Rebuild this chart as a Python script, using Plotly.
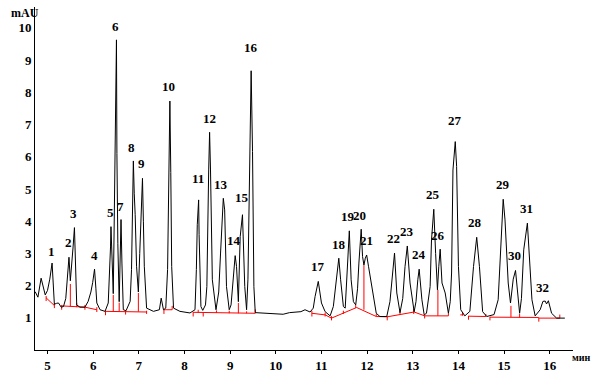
import plotly.graph_objects as go

# Chromatogram signal (time in min, signal in mAU)
signal_t = [4.73, 4.79, 4.86, 4.90, 4.95, 5.00, 5.05, 5.10, 5.13, 5.15, 5.20, 5.24, 5.30, 5.35, 5.40, 5.44,
            5.47, 5.50, 5.53, 5.56, 5.59, 5.62, 5.64, 5.71, 5.82, 5.89, 5.95, 5.99, 6.03, 6.06, 6.08, 6.15,
            6.26, 6.33, 6.36, 6.38, 6.39, 6.41, 6.44, 6.46, 6.48, 6.51, 6.52, 6.54, 6.57, 6.59, 6.61, 6.63,
            6.66, 6.72, 6.81, 6.84, 6.86, 6.88, 6.90, 6.92, 6.95, 6.99, 7.02, 7.05, 7.08, 7.10, 7.12, 7.17,
            7.32, 7.45, 7.49, 7.54, 7.59, 7.63, 7.65, 7.68, 7.70, 7.72, 7.76, 7.90, 8.12, 8.23, 8.26, 8.28,
            8.31, 8.32, 8.36, 8.40, 8.46, 8.49, 8.53, 8.55, 8.57, 8.61, 8.69, 8.75, 8.79, 8.85, 8.88, 8.92,
            8.98, 9.02, 9.06, 9.11, 9.14, 9.18, 9.22, 9.27, 9.32, 9.36, 9.39, 9.41, 9.43, 9.46, 9.49, 9.52,
            9.55, 9.80, 10.05, 10.16, 10.30, 10.45, 10.55, 10.64, 10.75, 10.82, 10.86, 10.93, 11.00, 11.08,
            11.19, 11.26, 11.31, 11.35, 11.38, 11.42, 11.48, 11.52, 11.57, 11.61, 11.65, 11.70, 11.75, 11.79,
            11.82, 11.87, 11.90, 11.93, 11.96, 11.99, 12.03, 12.07, 12.15, 12.20, 12.28, 12.43, 12.50, 12.54,
            12.60, 12.65, 12.72, 12.78, 12.83, 12.88, 12.94, 13.03, 13.07, 13.11, 13.14, 13.20, 13.25, 13.30,
            13.38, 13.41, 13.46, 13.50, 13.54, 13.57, 13.60, 13.64, 13.71, 13.78, 13.82, 13.85, 13.88, 13.93,
            13.96, 14.00, 14.05, 14.14, 14.25, 14.33, 14.40, 14.46, 14.53, 14.62, 14.78, 14.87, 14.93, 14.98,
            15.02, 15.09, 15.14, 15.20, 15.25, 15.28, 15.34, 15.38, 15.43, 15.51, 15.55, 15.61, 15.68, 15.79,
            15.85, 15.90, 15.93, 15.97, 16.04, 16.15, 16.33]
signal_mau = [1.81, 1.64, 2.23, 2.00, 1.71, 1.85, 2.20, 2.70, 1.90, 1.42, 1.45, 1.46, 1.33, 1.35, 1.60, 2.20,
              2.88, 2.15, 2.60, 3.20, 3.80, 2.30, 1.40, 1.33, 1.33, 1.51, 1.80, 2.10, 2.51, 1.90, 1.46, 1.25,
              1.20, 1.46, 2.30, 3.20, 3.83, 3.10, 1.75, 3.85, 7.00, 9.63, 6.10, 3.30, 1.50, 3.00, 4.05, 2.70,
              1.25, 1.22, 1.51, 2.50, 4.25, 5.87, 4.85, 4.20, 2.60, 1.80, 3.00, 4.56, 5.33, 4.00, 2.60, 1.30,
              1.20, 1.25, 1.61, 1.25, 1.30, 2.50, 5.51, 7.73, 5.51, 2.59, 1.30, 1.20, 1.15, 1.25, 2.50, 3.89,
              4.66, 3.58, 1.35, 1.23, 1.40, 1.97, 5.59, 6.76, 5.59, 2.18, 1.25, 1.80, 3.01, 4.71, 4.35, 1.97,
              1.25, 1.40, 2.08, 2.93, 2.59, 1.50, 3.52, 4.20, 1.97, 1.25, 2.20, 4.04, 6.16, 8.67, 6.16, 1.97,
              1.16, 1.14, 1.14, 1.11, 1.16, 1.18, 1.19, 1.25, 1.18, 1.30, 1.66, 2.13, 1.46, 1.19,
              1.06, 1.35, 2.00, 2.39, 2.85, 2.18, 1.35, 1.30, 2.70, 3.70, 2.18, 1.50, 1.40, 1.90,
              2.70, 3.75, 2.90, 2.64, 2.85, 2.95, 2.60, 2.28, 1.56, 1.14, 1.04, 1.04, 1.50, 2.18,
              3.01, 1.77, 1.16, 1.60, 2.59, 3.23, 2.08, 1.19, 1.50, 2.18, 2.51, 1.56, 1.09, 1.14,
              1.97, 3.42, 4.37, 3.00, 1.87, 2.60, 3.13, 2.08, 1.77, 1.14, 1.50, 2.39, 5.59, 6.47,
              5.70, 2.59, 1.25, 1.06, 1.20, 2.59, 3.50, 2.59, 1.19, 1.04, 1.10, 1.56, 3.42, 4.68,
              4.04, 2.08, 1.46, 2.20, 2.47, 1.97, 1.14, 1.60, 3.11, 3.94, 3.11, 1.56, 1.06, 1.25,
              1.51, 1.52, 1.43, 1.53, 1.14, 0.99, 0.99]

# Integration baseline segments (red): each is a list of (time, mAU) points
baseline_segments = [
    [(4.97, 1.62), (5.15, 1.38)],
    [(5.31, 1.37), (5.82, 1.33)],
    [(5.82, 1.33), (6.08, 1.25)],
    [(6.27, 1.20), (7.18, 1.18)],
    [(7.55, 1.25), (7.73, 1.25)],
    [(8.19, 1.17), (9.55, 1.14)],
    [(10.79, 1.14), (11.08, 1.09), (11.22, 0.99), (11.77, 1.32), (12.20, 1.04),
     (12.44, 1.03), (13.03, 1.18), (13.26, 1.06), (13.78, 1.06)],
    [(14.04, 1.09), (14.11, 1.09)],
    [(14.22, 1.05), (14.60, 1.04)],
    [(14.69, 1.02), (15.76, 1.01)],
    [(15.76, 0.99), (16.22, 0.99)],
]

# Peak boundary marks and drop lines (red): time, low mAU, high mAU
mark_t = [4.97, 5.15, 5.31, 5.50, 5.64, 5.82, 6.08, 6.27, 6.44, 6.57, 6.71, 6.99, 7.17, 7.55, 7.73,
          8.19, 8.30, 8.41, 8.70, 8.98, 9.18, 9.36, 9.55, 10.79, 11.08, 11.22, 11.48, 11.75, 11.93,
          12.20, 12.44, 12.72, 13.02, 13.26, 13.55, 13.78, 14.09, 14.22, 14.60, 14.69, 15.15, 15.34,
          15.76, 16.22]
mark_lo = [1.52, 1.30, 1.25, 1.35, 1.33, 1.25, 1.18, 1.08, 1.20, 1.20, 1.10, 1.19, 1.12, 1.12, 1.25,
           1.04, 1.16, 1.04, 1.15, 1.14, 1.14, 1.14, 1.14, 1.04, 1.04, 0.92, 1.12, 1.30, 1.25,
           1.04, 0.92, 1.10, 1.12, 0.98, 1.06, 1.06, 1.07, 0.94, 1.03, 0.92, 1.02, 1.01,
           0.88, 0.99]
mark_hi = [1.68, 1.45, 1.40, 2.05, 1.45, 1.40, 1.33, 1.22, 1.71, 1.47, 1.22, 1.77, 1.22, 1.27, 1.37,
           1.18, 1.25, 1.16, 1.23, 1.22, 1.46, 1.20, 1.26, 1.22, 1.16, 1.05, 1.22, 1.40, 2.64,
           1.12, 1.05, 1.20, 1.28, 1.08, 1.87, 1.14, 1.18, 1.06, 1.12, 1.03, 1.37, 1.12,
           1.00, 1.10]

# Peak number labels: text, time, mAU position
peak_labels = ["1", "2", "3", "4", "5", "6", "7", "8", "9", "10", "11", "12", "13", "14", "15", "16",
               "17", "18", "19", "20", "21", "22", "23", "24", "25", "26", "27", "28", "29", "30", "31", "32"]
label_t = [5.08, 5.45, 5.57, 6.02, 6.37, 6.48, 6.60, 6.85, 7.05, 7.66, 8.30, 8.54, 8.80, 9.08, 9.26, 9.46,
           10.92, 11.38, 11.59, 11.84, 11.98, 12.58, 12.87, 13.13, 13.44, 13.56, 13.92, 14.37, 14.97,
           15.23, 15.49, 15.84]
label_y = [3.05, 3.33, 4.23, 2.92, 4.26, 10.06, 4.47, 6.30, 5.78, 8.17, 5.31, 7.20, 5.15, 3.39, 4.73, 9.38,
           2.58, 3.29, 4.16, 4.19, 3.39, 3.45, 3.67, 2.95, 4.82, 3.57, 7.14, 3.95, 5.15,
           2.92, 4.38, 1.93]

x_ticks = list(range(5, 17))
y_ticks = list(range(1, 11))

FONT = "Liberation Serif"

fig = go.Figure()

# red baseline
bx, by = [], []
for seg in baseline_segments:
    for t, v in seg:
        bx.append(t)
        by.append(v)
    bx.append(None)
    by.append(None)
fig.add_trace(go.Scatter(x=bx, y=by, mode="lines", line=dict(color="#ff0000", width=1),
                         hoverinfo="skip", showlegend=False))

# red vertical marks
mx, my = [], []
for t, lo, hi in zip(mark_t, mark_lo, mark_hi):
    mx += [t, t, None]
    my += [lo, hi, None]
fig.add_trace(go.Scatter(x=mx, y=my, mode="lines", line=dict(color="#ff0000", width=1),
                         hoverinfo="skip", showlegend=False))

# signal
fig.add_trace(go.Scatter(x=signal_t, y=signal_mau, mode="lines",
                         line=dict(color="black", width=1), showlegend=False))

for txt, t, v in zip(peak_labels, label_t, label_y):
    fig.add_annotation(x=t, y=v, text=txt, showarrow=False, xanchor="center", yanchor="middle",
                       font=dict(family=FONT, size=13, color="black", weight="bold"))

# plot area in pixels: x 35..573, y 7..350
L, R, T, B = 35, 25, 7, 24
W, H = 598, 374
pw, ph = W - L - R, H - T - B

fig.add_annotation(xref="paper", yref="paper", x=(25 - L) / pw, y=(H - B - 13) / ph,
                   text="mAU", showarrow=False, xanchor="center", yanchor="middle",
                   font=dict(family=FONT, size=12, color="black", weight="bold"))
fig.add_annotation(xref="paper", yref="paper", x=(581 - L) / pw, y=(H - B - 358) / ph,
                   text="мин", showarrow=False, xanchor="center", yanchor="middle",
                   font=dict(family=FONT, size=10, color="black", weight="bold"))

fig.update_layout(
    width=W, height=H,
    margin=dict(l=L, r=R, t=T, b=B, pad=0),
    paper_bgcolor="white", plot_bgcolor="white",
    xaxis=dict(range=[4.726, 16.509], tickvals=x_ticks, ticktext=[str(v) for v in x_ticks],
               showgrid=False, zeroline=False, showline=True, linecolor="black", linewidth=1,
               ticks="outside", ticklen=3, tickcolor="black", automargin=False,
               tickfont=dict(family=FONT, size=13, color="black", weight="bold")),
    yaxis=dict(range=[0, 10.65], tickvals=y_ticks, ticktext=[str(v) for v in y_ticks],
               showgrid=False, zeroline=False, showline=True, linecolor="black", linewidth=1,
               ticks="", automargin=False,
               tickfont=dict(family=FONT, size=13, color="black", weight="bold")),
)

fig.write_html("out.html", config={"displayModeBar": False},
               post_script="document.body.style.margin='0';document.body.style.overflow='hidden';")
